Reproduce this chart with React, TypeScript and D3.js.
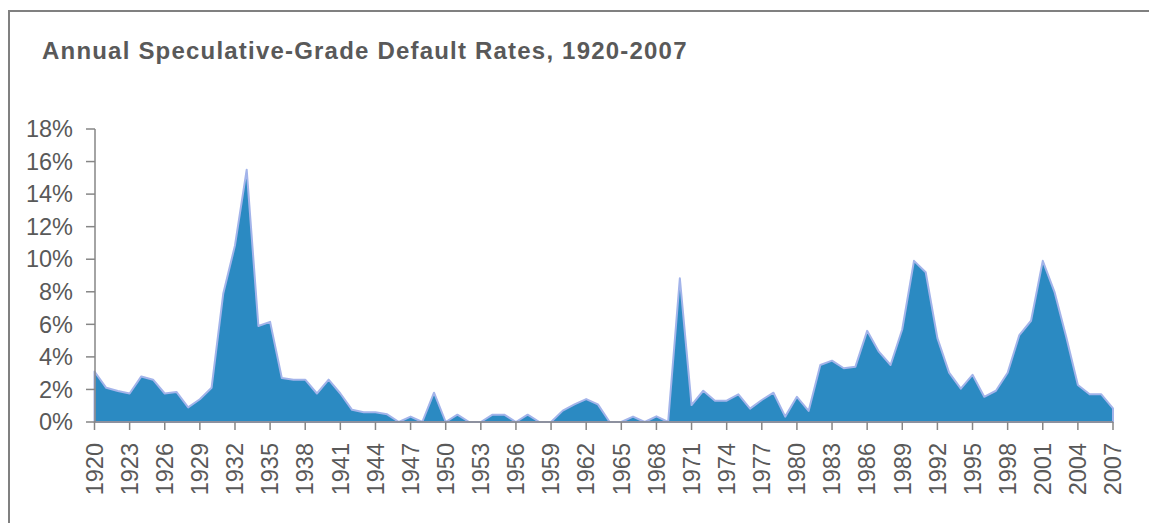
import React from "react";
import * as d3 from "d3";

const years: number[] = d3.range(1920, 2008);
const rates: number[] = [
  3.1, 2.1, 1.9, 1.75, 2.8, 2.6, 1.75, 1.85, 0.9, 1.4,
  2.1, 7.9, 10.85, 15.5, 5.9, 6.15, 2.7, 2.6, 2.6, 1.75,
  2.6, 1.75, 0.75, 0.6, 0.6, 0.47, 0, 0.33, 0, 1.8,
  0, 0.45, 0, 0, 0.45, 0.45, 0, 0.45, 0, 0,
  0.7, 1.08, 1.41, 1.08, 0, 0, 0.33, 0, 0.35, 0,
  8.83, 1.04, 1.92, 1.31, 1.31, 1.7, 0.82, 1.35, 1.8, 0.33,
  1.55, 0.68, 3.5, 3.77, 3.3, 3.4, 5.6, 4.32, 3.5, 5.7,
  9.9, 9.2, 5.15, 3.03, 2.05, 2.9, 1.55, 1.92, 3.03, 5.34,
  6.22, 9.9, 8.0, 5.24, 2.27, 1.7, 1.7, 0.84,
];
const yTicks: number[] = [0, 2, 4, 6, 8, 10, 12, 14, 16, 18];
const xTickYears: number[] = d3.range(1920, 2008, 3);
const title = "Annual Speculative-Grade Default Rates, 1920-2007";

const W = 1149;
const H = 523;
const FONT = "'Liberation Sans', Arial, sans-serif";
const TEXT = "#595959";
const AXIS = "#868686";

export default function App() {
  const x = d3.scaleLinear().domain([1920, 2007]).range([94.5, 1113]);
  const y = d3.scaleLinear().domain([0, 18]).range([422, 129]);
  const data = years.map((yr, i) => ({ yr, v: rates[i] }));
  const area = d3
    .area<{ yr: number; v: number }>()
    .x((d) => x(d.yr))
    .y0(y(0))
    .y1((d) => y(d.v));
  const path = area(data) || "";

  return (
    <svg
      width={W}
      height={H}
      style={{ position: "absolute", left: 0, top: 0, background: "#fff" }}
    >
      <rect x={9} y={11} width={W + 20} height={H + 20} fill="none" stroke="#808080" strokeWidth={2} />
      <text
        x={42}
        y={58.5}
        fontFamily={FONT}
        fontSize={24}
        fontWeight="bold"
        letterSpacing={1.2}
        fill={TEXT}
      >
        {title}
      </text>
      <path d={path + "Z"} fill="#2B8AC2" stroke="#A3B4EA" strokeWidth={2} strokeLinejoin="round" />
      {/* y axis */}
      <line x1={95} x2={95} y1={y(18)} y2={y(0)} stroke={AXIS} strokeWidth={1.5} />
      {yTicks.map((t) => (
        <g key={t}>
          <line x1={86} x2={95} y1={y(t)} y2={y(t)} stroke={AXIS} strokeWidth={1.5} />
          <text
            x={73}
            y={y(t)}
            dy="0.35em"
            textAnchor="end"
            fontFamily={FONT}
            fontSize={23.5}
            fill={TEXT}
          >
            {t + "%"}
          </text>
        </g>
      ))}
      {/* x axis */}
      <line x1={94.5} x2={1113} y1={y(0)} y2={y(0)} stroke={AXIS} strokeWidth={1.5} />
      {xTickYears.map((yr) => (
        <g key={yr}>
          <line x1={x(yr)} x2={x(yr)} y1={y(0)} y2={y(0) + 8} stroke={AXIS} strokeWidth={1.5} />
          <text
            transform={`translate(${x(yr)},443) rotate(-90)`}
            dy="0.35em"
            textAnchor="end"
            fontFamily={FONT}
            fontSize={23.5}
            fill={TEXT}
          >
            {yr}
          </text>
        </g>
      ))}
    </svg>
  );
}
